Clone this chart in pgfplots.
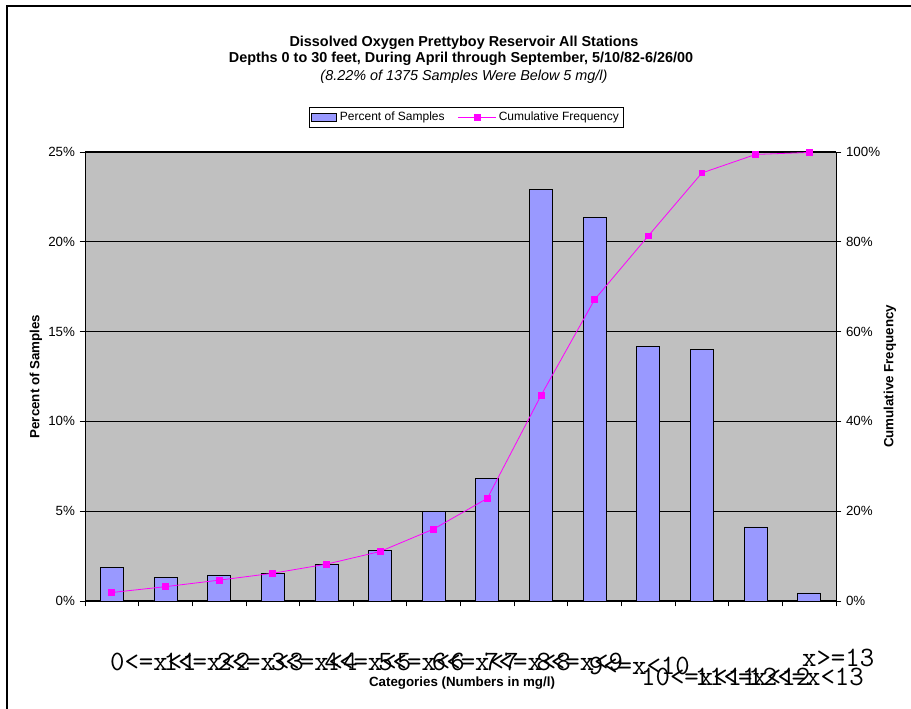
\documentclass[border=0pt]{standalone}
\usepackage{pgfplots}
\pgfplotsset{compat=1.18}
\usepackage{fontspec}
\setmainfont{Liberation Sans}
\definecolor{plotgray}{HTML}{C0C0C0}
\definecolor{barblue}{HTML}{9999FF}
\definecolor{cummag}{HTML}{FF00FF}

\pgfplotstableread{
x pct cum
0 1.89 1.89
1 1.30 3.19
2 1.45 4.64
3 1.53 6.17
4 2.03 8.20
5 2.82 11.02
6 5.01 16.03
7 6.83 22.86
8 22.90 45.76
9 21.38 67.14
10 14.16 81.30
11 14.03 95.33
12 4.12 99.45
13 0.45 99.90
}\datatable

\pgfplotsset{
  cumlegend/.style={legend image code/.code={\draw[mark repeat=2,mark phase=2,##1] plot coordinates {(0pt,0pt) (14pt,0pt) (28pt,0pt)};}},
}

\begin{document}
\begin{tikzpicture}[x=0.75pt,y=0.75pt]
\useasboundingbox (0,0) rectangle (911,709);
\draw[line width=1.5pt, line join=miter] (7,0) -- (7,703) -- (911,703);

\node[font=\bfseries\fontsize{10.8}{12}\selectfont] at (464,666) {Dissolved Oxygen Prettyboy Reservoir All Stations};
\node[font=\bfseries\fontsize{10.8}{12}\selectfont] at (461,650) {Depths 0 to 30 feet, During April through September, 5/10/82-6/26/00};
\node[font=\itshape\fontsize{10.8}{12}\selectfont] at (464,632) {(8.22\% of 1375 Samples Were Below 5 mg/l)};

\begin{axis}[
  at={(63.75pt,81pt)}, anchor=south west, scale only axis,
  width=563.25pt, height=336.75pt,
  xmin=-0.5, xmax=13.5, ymin=0, ymax=25,
  axis background/.style={fill=plotgray},
  axis line style={black, line width=0.6pt},
  ytick={0,5,10,15,20,25},
  yticklabels={0\%,5\%,10\%,15\%,20\%,25\%},
  yticklabel style={font=\fontsize{10}{11}\selectfont},
  ytick pos=left, xtick pos=bottom, tick align=outside,
  major tick length=4pt,
  tick style={black, line width=0.6pt},
  ymajorgrids, grid style={black, line width=0.75pt},
  xtick={-0.5,0.5,...,13.5}, xticklabels={},
  extra x ticks={0,1,2,3,4,5,6,7,8,9,10,11,12,13},
  extra x tick labels={{0<=x<1},{1<=x<2},{2<=x<3},{3<=x<4},{4<=x<5},{5<=x<6},{6<=x<7},{\hspace*{-1pt}7<=x<8},{\hspace*{-2pt}8<=x<9},{\hspace*{-3pt}\raisebox{-3pt}{9<=x<10}},{\hspace*{-4pt}\raisebox{-11.25pt}{10<=x<11}},{\hspace*{-4pt}\raisebox{-11.25pt}{11<=x<12}},{\hspace*{-4pt}\raisebox{-11.25pt}{12<=x<13}},{\hspace*{-4pt}\raisebox{3pt}{x>=13}}},
  extra x tick style={major tick length=0pt, xticklabel style={anchor=base west, inner sep=0pt, xshift=-1.5pt, yshift=-52.5pt, font=\ttfamily\fontsize{21}{21}\selectfont}},
  xlabel={Categories (Numbers in mg/l)},
  xlabel style={at={(rel axis cs:0.502,-0.1826)}, anchor=center, font=\bfseries\fontsize{10}{11}\selectfont},
  ylabel={Percent of Samples},
  ylabel style={at={(rel axis cs:-0.0652,0.5)}, anchor=center, font=\bfseries\fontsize{10}{11}\selectfont},
  legend style={at={(0.508,1.0768)}, anchor=center, draw=black, line width=0.6pt, fill=white,
    font=\fontsize{9}{10}\selectfont, inner sep=1.5pt,
    /tikz/every even column/.append style={column sep=8pt}},
  legend columns=2,
]
\addplot[ybar, bar width=17.25pt, fill=barblue, draw=black, line width=0.5pt,
  legend image code/.code={\draw[fill=barblue,draw=black,line width=0.6pt] (0pt,-3.2pt) rectangle (18.75pt,3.2pt);}]
  table[x=x, y=pct] {\datatable};
\addlegendentry{Percent of Samples}
\addlegendimage{cummag, line width=0.6pt, mark=square*, mark size=2.2pt, mark options={solid, fill=cummag, draw=cummag}, cumlegend}
\addlegendentry{Cumulative Frequency}
\end{axis}

\begin{axis}[
  at={(63.75pt,81pt)}, anchor=south west, scale only axis,
  width=563.25pt, height=336.75pt,
  xmin=-0.5, xmax=13.5, ymin=0, ymax=100,
  axis y line*=right, axis x line=none,
  axis line style={black, line width=0.6pt},
  ytick={0,20,40,60,80,100},
  yticklabels={0\%,20\%,40\%,60\%,80\%,100\%},
  yticklabel style={font=\fontsize{10}{11}\selectfont},
  tick align=outside, major tick length=4pt,
  tick style={black, line width=0.6pt},
  ylabel={Cumulative Frequency},
  ylabel style={at={(rel axis cs:1.0719,0.5)}, anchor=center, font=\bfseries\fontsize{10}{11}\selectfont},
]
\addplot[cummag, line width=0.6pt, mark=square*, mark size=2.2pt, mark options={fill=cummag, draw=cummag}]
  table[x=x, y=cum] {\datatable};
\end{axis}
\end{tikzpicture}
\end{document}
